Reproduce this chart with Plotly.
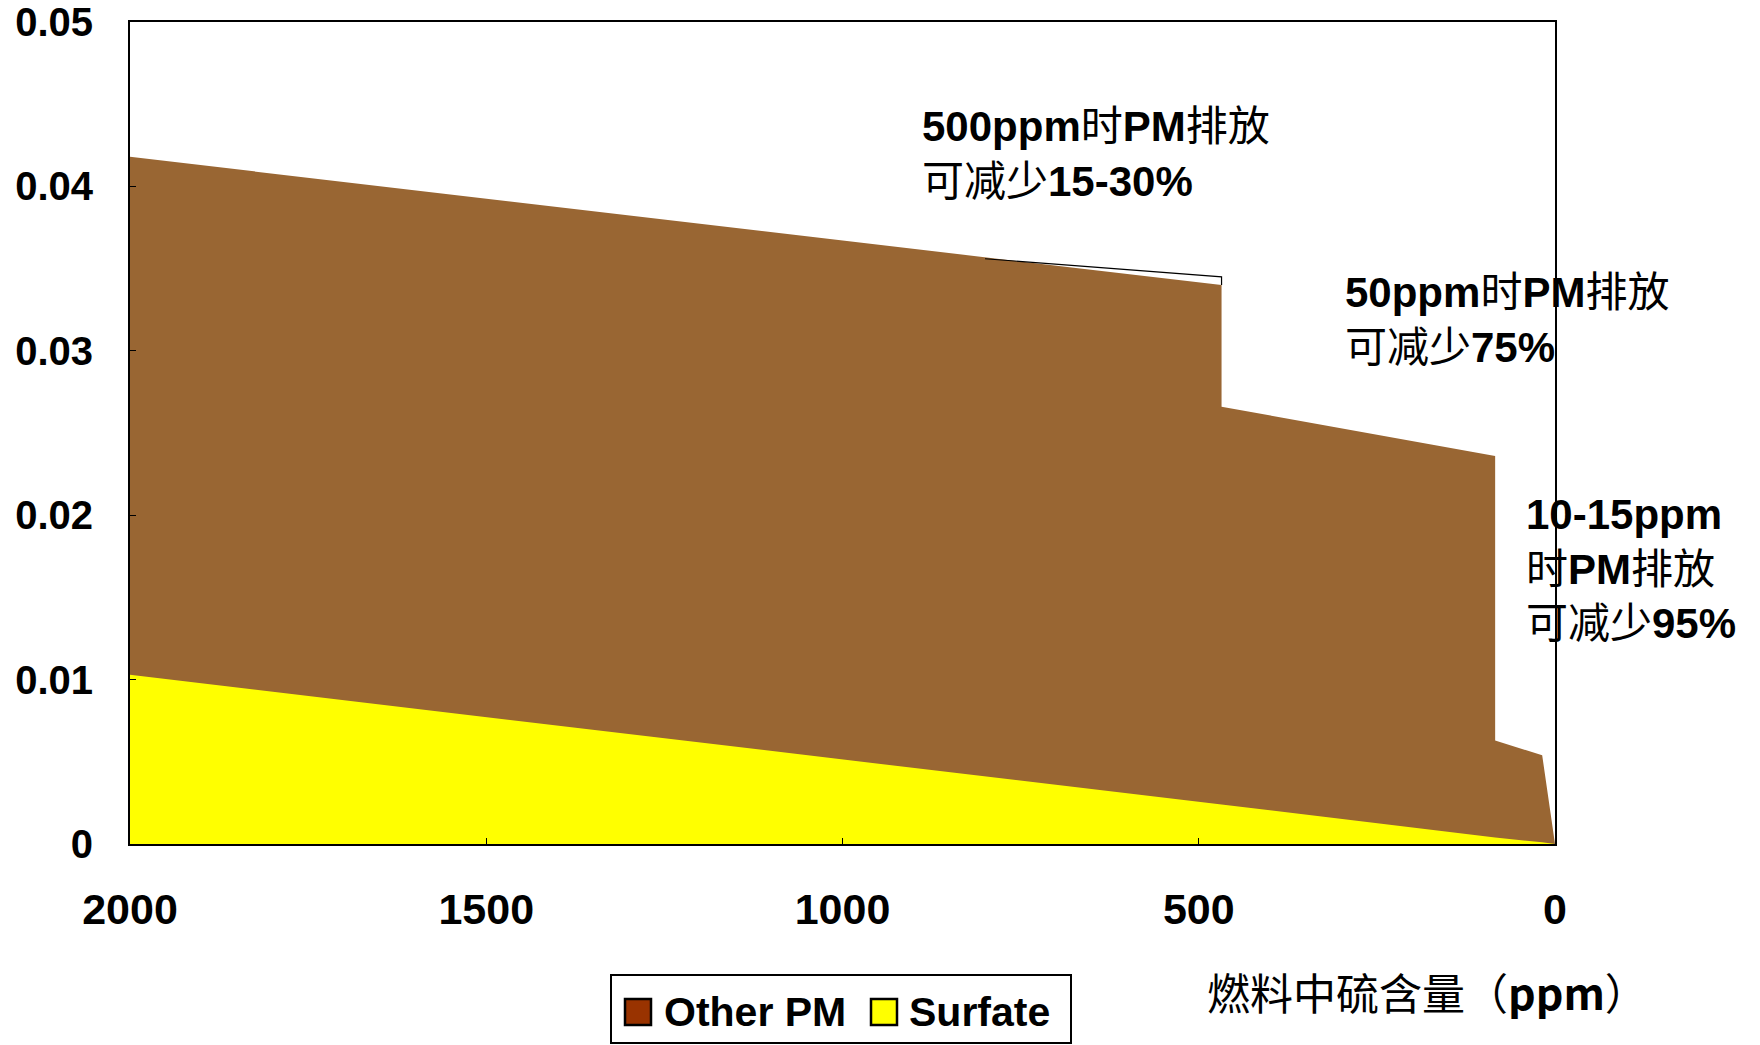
import plotly.graph_objects as go

# Data (sulfur content ppm vs PM emissions)
sulfur_ppm = [2000, 468, 468, 84, 84, 18, 0]
surfate = [0.0103, 0.0024, 0.0024, 0.0004, 0.0004, 0.0001, 0.0]
other_pm = [0.0315, 0.0316, 0.0242, 0.0232, 0.0059, 0.0053, 0.0]
outline_x = [800, 468, 468]
outline_y = [0.0356, 0.0345, 0.0340]
series_names = ["Other PM", "Surfate"]

total = [s + o for s, o in zip(surfate, other_pm)]

BROWN = "#996633"
YELLOW = "#FFFF00"
LEG_BROWN = "#993300"
FONT = "Liberation Sans, Arial, Noto Sans CJK SC"

L, R, T, B = 130, 1555, 22, 844
W, H = 1760, 1045


def px(x):
    return (x - L) / (R - L)


def py(y):
    return (B - y) / (B - T)


fig = go.Figure()
fig.add_trace(go.Scatter(x=sulfur_ppm, y=total, mode="none", fill="tozeroy",
                         fillcolor=BROWN, name=series_names[0], showlegend=False,
                         hoverinfo="skip"))
fig.add_trace(go.Scatter(x=sulfur_ppm, y=surfate, mode="none", fill="tozeroy",
                         fillcolor=YELLOW, name=series_names[1], showlegend=False,
                         hoverinfo="skip"))
fig.add_trace(go.Scatter(x=outline_x, y=outline_y, mode="lines",
                         line=dict(color="black", width=1.2), showlegend=False))

ann_font = dict(family=FONT, size=42, color="black")
annots = [
    (920, 154, "<b>500ppm</b>时<b>PM</b>排放<br>可减少<b>15-30%</b>"),
    (1343, 320, "<b>50ppm</b>时<b>PM</b>排放<br>可减少<b>75%</b>"),
    (1524, 569, "<b>10-15ppm</b><br>时<b>PM</b>排放<br>可减少<b>95%</b>"),
]
for ax_, ay_, txt in annots:
    fig.add_annotation(
        x=px(ax_), y=py(ay_), xref="paper", yref="paper",
        text=txt, showarrow=False, xanchor="left", yanchor="middle", align="left",
        font=ann_font,
    )
fig.add_annotation(
    x=px(1205), y=py(991), xref="paper", yref="paper",
    text="燃料中硫含量（<b>ppm</b>）", showarrow=False, xanchor="left", yanchor="middle",
    font=dict(family="Noto Sans CJK SC, Liberation Sans", size=43, color="black"),
)

# Legend box drawn in paper coordinates
shapes = [
    dict(type="rect", xref="paper", yref="paper", x0=px(611), x1=px(1071),
         y0=py(975), y1=py(1043), line=dict(color="black", width=2),
         fillcolor="white"),
    dict(type="rect", xref="paper", yref="paper", x0=px(625), x1=px(651),
         y0=py(999), y1=py(1025), line=dict(color="black", width=2.5),
         fillcolor=LEG_BROWN),
    dict(type="rect", xref="paper", yref="paper", x0=px(871), x1=px(897),
         y0=py(999), y1=py(1025), line=dict(color="black", width=2.5),
         fillcolor=YELLOW),
]
for lx, name in [(662, series_names[0]), (907, series_names[1])]:
    fig.add_annotation(
        x=px(lx), y=py(1012), xref="paper", yref="paper", text="<b>%s</b>" % name,
        showarrow=False, xanchor="left", yanchor="middle",
        font=dict(family=FONT, size=41, color="black"),
    )

fig.update_layout(
    width=W, height=H,
    margin=dict(l=L, r=W - R, t=T, b=H - B, autoexpand=False),
    paper_bgcolor="white", plot_bgcolor="white",
    font=dict(family=FONT, color="black"),
    showlegend=False,
    shapes=shapes,
)
fig.update_xaxes(
    range=[2000, 0], tickvals=[2000, 1500, 1000, 500, 0],
    ticktext=["2000", "1500", "1000", "500", "0"],
    showgrid=False, zeroline=False, showline=True, linecolor="black", linewidth=2,
    mirror=True, ticks="inside", ticklen=6, tickcolor="black", automargin=False,
    tickfont=dict(family=FONT, size=43, weight="bold"), ticklabelstandoff=26,
)
fig.update_yaxes(
    range=[0, 0.05], tickvals=[0, 0.01, 0.02, 0.03, 0.04, 0.05],
    ticktext=["0", "0.01", "0.02", "0.03", "0.04", "0.05"],
    showgrid=False, zeroline=False, showline=True, linecolor="black", linewidth=2,
    mirror=True, ticks="inside", ticklen=6, tickcolor="black", automargin=False,
    tickfont=dict(family=FONT, size=40, weight="bold"), ticklabelstandoff=27,
)

fig.write_html("out.html")
